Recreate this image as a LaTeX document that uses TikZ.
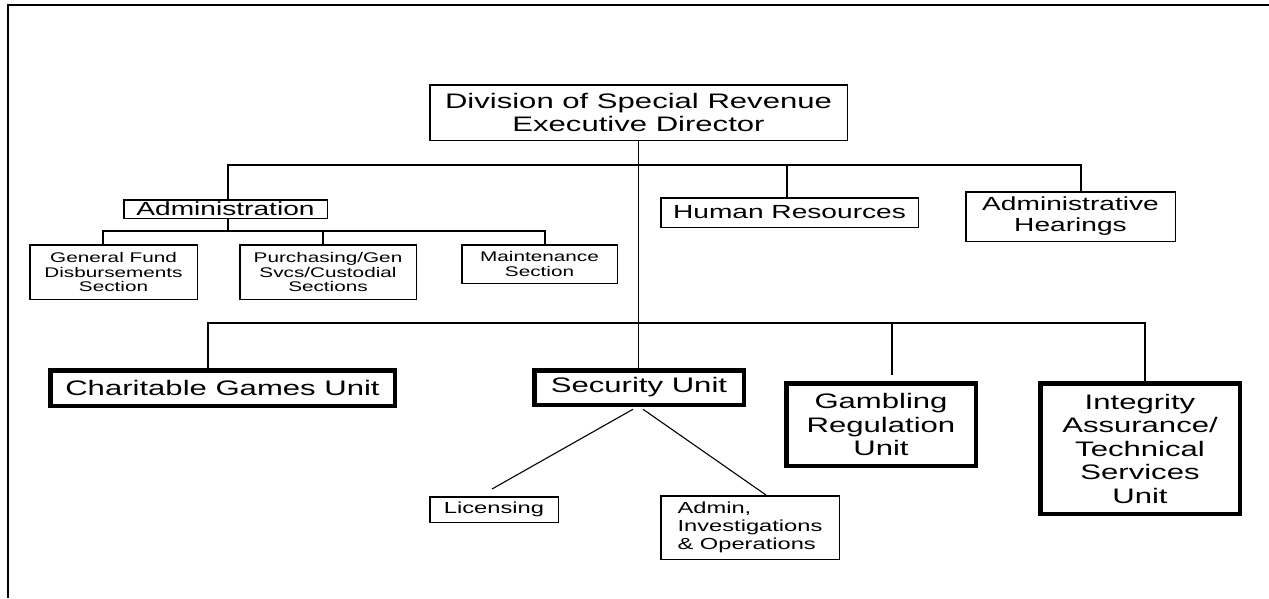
\documentclass[tikz,border=0pt]{standalone}
\usepackage{fontspec}
\setmainfont{Liberation Sans}[FakeStretch=1.48]
\usepackage{tikz}

\newcommand{\fntunit}{\fontsize{21}{23.5}\selectfont}
\newcommand{\fntmid}{\fontsize{19}{21}\selectfont}
\newcommand{\fntsub}{\fontsize{16}{18}\selectfont}
\newcommand{\fntsec}{\fontsize{14}{14.5}\selectfont}

\begin{document}
\begin{tikzpicture}[x=1pt,y=-1pt,
  box/.style={draw,line width=1.5pt,inner sep=0pt,align=center},
  unitbox/.style={draw,line width=4.5pt,inner sep=0pt,align=center,font=\fntunit},
  wire/.style={line width=1.1pt}]
\useasboundingbox (0,0) rectangle (1269,598);
\draw[line width=2.5pt] (7,5) -- (1269,5);
\draw[line width=2pt] (8,5) -- (8,598);

\node[box,font=\fntunit,minimum width=417.5pt,minimum height=55.5pt] (div) at (638.5,112.5) {Division of Special Revenue\\Executive Director};
\node[box,font=\fntmid,minimum width=203.5pt,minimum height=18.5pt] (admin) at (225.5,209) {Administration};
\node[box,font=\fntmid,minimum width=257.5pt,minimum height=29.5pt] (hr) at (789.5,212.5) {Human Resources};
\node[box,font=\fntmid,minimum width=209.5pt,minimum height=49.5pt] (hearings) at (1070.5,216.5) {Administrative\\Hearings};
\node[box,font=\fntsec,minimum width=167.5pt,minimum height=54.5pt] (genfund) at (113.5,272) {General Fund\\Disbursements\\Section};
\node[box,font=\fntsec,minimum width=176.5pt,minimum height=54.5pt] (purch) at (328,272) {Purchasing/Gen\\Svcs/Custodial\\Sections};
\node[box,font=\fntsec,minimum width=155.5pt,minimum height=38.5pt] (maint) at (539.5,264) {Maintenance\\Section};

\node[unitbox,minimum width=344.5pt,minimum height=35.5pt] (charit) at (222.5,388) {Charitable Games Unit};
\node[unitbox,minimum width=209.5pt,minimum height=34.5pt] (security) at (639,387.5) {Security Unit};
\node[unitbox,minimum width=189.5pt,minimum height=82.5pt] (gambling) at (881,424.5) {Gambling\\Regulation\\Unit};
\node[unitbox,minimum width=199.5pt,minimum height=130.5pt] (integ) at (1140,448.5) {Integrity\\Assurance/\\Technical\\Services\\Unit};

\node[box,font=\fntsub,minimum width=128.5pt,minimum height=25.5pt] (lic) at (494,509.5) {Licensing};
\node[box,font=\fntsub,align=left,minimum width=178.5pt,minimum height=63.5pt] (inv) at (750,527.5) {Admin,\\Investigations\\\& Operations};

\coordinate (busTop) at (639,165);
\coordinate (busAdm) at (228,231);
\coordinate (busLow) at (639,323);
\coordinate (licEnd) at (492,489);

\draw[wire] (div.south) -- (div.south |- security.north);
\draw[wire] ([xshift=2.5pt]admin.north) |- (busTop);
\draw[wire] ([xshift=-2.5pt]hr.north) |- (busTop);
\draw[wire] ([xshift=10.5pt]hearings.north) |- (busTop);
\draw[wire] ([xshift=2.5pt]admin.south) -- (busAdm);
\draw[wire] ([xshift=-10.5pt]genfund.north) |- (busAdm);
\draw[wire] ([xshift=-5pt]purch.north) |- (busAdm);
\draw[wire] ([xshift=5.5pt]maint.north) |- (busAdm);
\draw[wire] ([xshift=-14.5pt]charit.north) |- (busLow);
\draw[wire] ([xshift=11pt,yshift=6.25pt]gambling.north) |- (busLow);
\draw[wire] ([xshift=5pt]integ.north) |- (busLow);
\draw[wire] ([xshift=-6pt,yshift=-2.25pt]security.south) -- (licEnd);
\draw[wire] ([xshift=4pt,yshift=-2.25pt]security.south) -- ([xshift=16pt]inv.north);
\end{tikzpicture}
\end{document}
